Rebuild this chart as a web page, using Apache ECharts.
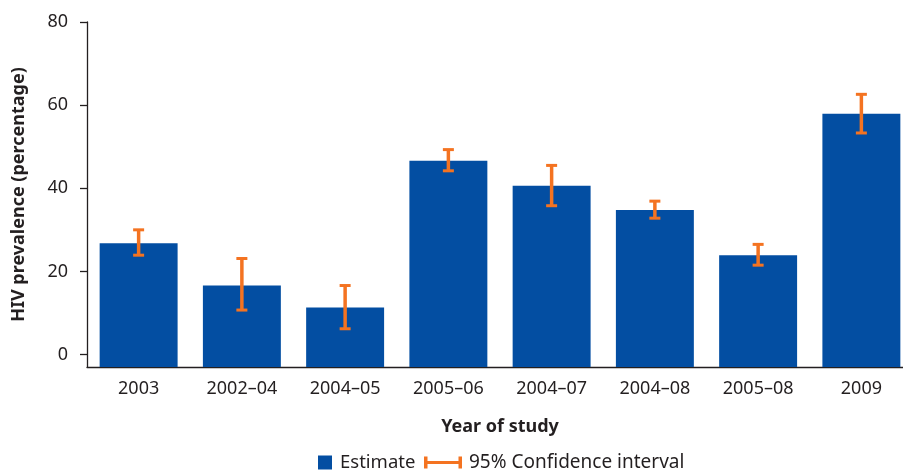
<!DOCTYPE html>
<html>
<head>
<meta charset="utf-8">
<script src="https://cdn.jsdelivr.net/npm/echarts@6/dist/echarts.min.js"></script>
<style>
html,body{margin:0;padding:0;background:#fff;}
#chart{width:903px;height:471px;}
</style>
</head>
<body>
<div id="chart"></div>
<script>
// ---- data ----
const categories = ['2003', '2002–04', '2004–05', '2005–06', '2004–07', '2004–08', '2005–08', '2009'];
const estimates  = [26.8, 16.6, 11.3, 46.6, 40.6, 34.8, 23.9, 57.9];
const ciLow      = [23.9, 10.7, 6.2, 44.2, 35.8, 32.8, 21.5, 53.3];
const ciHigh     = [30.0, 23.1, 16.6, 49.3, 45.5, 36.9, 26.5, 62.6];
const yTicks     = [0, 20, 40, 60, 80];

// ---- styling ----
const BLUE = '#034ea2';
const ORANGE = '#f47321';
const TEXT = '#231f20';
const FONT = 'Noto Sans';
const Y_MIN = -3;   // axis floor sits slightly below zero in the reference
const Y_MAX = 80;

const chart = echarts.init(document.getElementById('chart'));

const barData = categories.map((c, i) => [i, estimates[i]]);
const ciData = categories.map((c, i) => [i, ciLow[i], ciHigh[i]]);

chart.setOption({
  animation: false,
  textStyle: { fontFamily: FONT, color: TEXT },
  grid: { left: 87, top: 22, width: 826, bottom: 104, containLabel: false, outerBoundsMode: 'none' },
  xAxis: {
    type: 'category',
    data: categories,
    name: 'Year of study',
    nameLocation: 'middle',
    nameGap: 51,
    nameTextStyle: { fontFamily: FONT, fontSize: 18, fontWeight: 'bold', color: TEXT },
    axisLine: { onZero: false, lineStyle: { color: TEXT, width: 1.3 } },
    axisTick: { alignWithLabel: true, length: 7, lineStyle: { color: TEXT, width: 1.3 } },
    axisLabel: { fontFamily: FONT, fontSize: 18, color: TEXT, margin: 13 }
  },
  yAxis: {
    type: 'value',
    min: Y_MIN,
    max: Y_MAX,
    name: 'HIV prevalence (percentage)',
    nameLocation: 'middle',
    nameGap: 59,
    nameTextStyle: { fontFamily: FONT, fontSize: 18, fontWeight: 'bold', color: TEXT },
    splitLine: { show: false },
    axisLine: { show: true, lineStyle: { color: TEXT, width: 1.3 } },
    axisTick: { show: true, length: 7, customValues: yTicks, lineStyle: { color: TEXT, width: 1.3 } },
    axisLabel: {
      fontFamily: FONT, fontSize: 18, color: TEXT, margin: 19,
      customValues: yTicks,
      formatter: v => (yTicks.indexOf(v) >= 0 ? String(v) : '')
    }
  },
  legend: [
    {
      data: [{ name: 'Estimate', icon: 'rect' }],
      left: 318, top: 453, padding: 0,
      itemWidth: 14, itemHeight: 14,
      textStyle: { fontFamily: FONT, fontSize: 18.5, color: TEXT, padding: [0, 0, 0, 3] }
    },
    {
      data: [{ name: '95% Confidence interval', icon: 'path://M0,4.5H38V7.5H0Z M0,0H3.5V12H0Z M34.5,0H38V12H34.5Z' }],
      left: 424, top: 453, padding: 0,
      itemWidth: 38, itemHeight: 12,
      textStyle: { fontFamily: FONT, fontSize: 19, color: TEXT, padding: [0, 0, 0, 2] }
    }
  ],
  series: [
    {
      name: 'Estimate',
      type: 'custom',
      itemStyle: { color: BLUE },
      data: barData,
      encode: { x: 0, y: 1 },
      renderItem: function (params, api) {
        const idx = api.value(0);
        const top = api.coord([idx, api.value(1)]);
        const bottom = api.coord([idx, Y_MIN]);
        const w = api.size([1, 0])[0] * 0.755;
        return {
          type: 'rect',
          shape: { x: top[0] - w / 2, y: top[1], width: w, height: bottom[1] - top[1] },
          style: { fill: BLUE }
        };
      },
      z: 2
    },
    {
      name: '95% Confidence interval',
      type: 'custom',
      itemStyle: { color: ORANGE },
      data: ciData,
      encode: { x: 0, y: [1, 2] },
      renderItem: function (params, api) {
        const idx = api.value(0);
        const lo = api.coord([idx, api.value(1)]);
        const hi = api.coord([idx, api.value(2)]);
        const half = 5.5;
        const st = { stroke: ORANGE, lineWidth: 3.5 };
        const stc = { stroke: ORANGE, lineWidth: 3 };
        return {
          type: 'group',
          children: [
            { type: 'line', shape: { x1: lo[0], y1: lo[1], x2: hi[0], y2: hi[1] }, style: st },
            { type: 'line', shape: { x1: hi[0] - half, y1: hi[1], x2: hi[0] + half, y2: hi[1] }, style: stc },
            { type: 'line', shape: { x1: lo[0] - half, y1: lo[1], x2: lo[0] + half, y2: lo[1] }, style: stc }
          ]
        };
      },
      z: 3
    }
  ]
});
</script>
</body>
</html>
